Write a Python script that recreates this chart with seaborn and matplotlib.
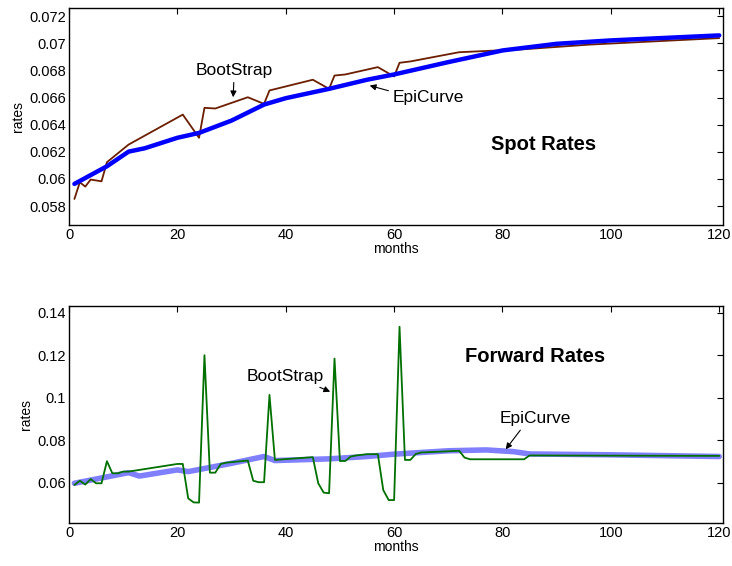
import numpy as np
import pandas as pd
import seaborn as sns
import matplotlib
matplotlib.use("Agg")
import matplotlib.pyplot as plt
from matplotlib.ticker import FuncFormatter

# spot rates (knot months and values)
spot_boot_m = [1, 2, 3, 4, 6, 7, 11, 21, 24, 25, 27, 33, 36, 37, 45, 48, 49, 51,
               57, 60, 61, 63, 72, 84, 96, 120]
spot_boot_v = [0.05852, 0.05975, 0.05943, 0.05995, 0.05982, 0.06123, 0.06253, 0.06474,
               0.06303, 0.06524, 0.06519, 0.06602, 0.06553, 0.06652, 0.06731, 0.06664,
               0.06762, 0.06770, 0.06824, 0.06755, 0.06856, 0.06866, 0.06934, 0.06956,
               0.06990, 0.07038]
spot_epi_m = [1, 7, 11, 14, 20, 24, 30, 36, 40, 48, 55, 60, 70, 80, 90, 100, 120]
spot_epi_v = [0.05963, 0.06093, 0.06201, 0.06226, 0.06303, 0.06339, 0.06430, 0.06548,
              0.06595, 0.06664, 0.06731, 0.06770, 0.06861, 0.06947, 0.06996, 0.07021,
              0.07058]

# forward rates
fwd_boot_m = [1, 2, 3, 4, 5, 6, 7, 8, 9, 10, 11, 20, 21, 22, 23, 24, 25, 26, 27, 28,
              29, 33, 34, 35, 36, 37, 38, 45, 46, 47, 48, 49, 50, 51, 52, 53, 55, 57,
              58, 59, 60, 61, 62, 63, 64, 65, 72, 73, 74, 84, 85, 120]
fwd_boot_v = [0.0589, 0.0609, 0.0591, 0.0617, 0.0597, 0.0597, 0.0701, 0.0644, 0.0644,
              0.0652, 0.0652, 0.0688, 0.0688, 0.0526, 0.0507, 0.0506, 0.1200, 0.0647,
              0.0647, 0.0688, 0.0694, 0.0704, 0.0609, 0.0602, 0.0602, 0.1013, 0.0707,
              0.0720, 0.0597, 0.0553, 0.0550, 0.1184, 0.0702, 0.0702, 0.0723, 0.0728,
              0.0734, 0.0734, 0.0565, 0.0518, 0.0518, 0.1334, 0.0707, 0.0707, 0.0735,
              0.0742, 0.0750, 0.0718, 0.0710, 0.0710, 0.0728, 0.0726]
fwd_epi_m = [1, 11, 13, 20, 22, 30, 36, 38, 48, 55, 60, 70, 77, 82, 85, 100, 120]
fwd_epi_v = [0.0597, 0.0647, 0.0631, 0.0660, 0.0652, 0.0691, 0.0723, 0.0704, 0.0712,
             0.0723, 0.0734, 0.0750, 0.0754, 0.0746, 0.0735, 0.0731, 0.0723]

sns.set_style("white")
plt.rcParams['font.family'] = ['Liberation Sans', 'DejaVu Sans']
plt.rcParams['text.color'] = 'black'
plt.rcParams['axes.labelcolor'] = 'black'

fig = plt.figure(figsize=(7.32, 5.66), dpi=100)
ax1 = fig.add_axes([69/732, 1-225/566, 654/732, 217/566])
ax2 = fig.add_axes([69/732, 1-523/566, 654/732, 217.3/566])

sb = pd.DataFrame({'months': spot_boot_m, 'rates': spot_boot_v})
se = pd.DataFrame({'months': spot_epi_m, 'rates': spot_epi_v})
fb = pd.DataFrame({'months': fwd_boot_m, 'rates': fwd_boot_v})
fe = pd.DataFrame({'months': fwd_epi_m, 'rates': fwd_epi_v})

sns.lineplot(data=sb, x='months', y='rates', ax=ax1, color='#6b1e00', lw=1.3)
sns.lineplot(data=se, x='months', y='rates', ax=ax1, color='#0000ff', lw=3.2)

sns.lineplot(data=fe, x='months', y='rates', ax=ax2, color='#8080ff', lw=4)
sns.lineplot(data=fb, x='months', y='rates', ax=ax2, color='#007000', lw=1.3)

ax1.set_ylim(0.0566, 0.0726)
ax1.set_yticks(np.arange(0.058, 0.0721, 0.002))
ax2.set_ylim(0.041, 0.1433)
ax2.set_yticks([0.06, 0.08, 0.1, 0.12, 0.14])

fmt = FuncFormatter(lambda v, p: '%g' % round(v, 4))
for ax in (ax1, ax2):
    ax.set_xlim(0, 120.7)
    ax.set_xticks(range(0, 121, 20))
    ax.yaxis.set_major_formatter(fmt)
    ax.tick_params(direction='in', top=True, right=True, length=4, width=0.8,
                   labelsize=10.5, pad=2, colors='black')
    for s in ax.spines.values():
        s.set_color('black')
        s.set_linewidth(1.0)
    ax.set_xlabel('months', fontsize=10, labelpad=0)
    ax.set_ylabel('rates', fontsize=10, labelpad=3)

arw = dict(arrowstyle='-|>', color='black', lw=0.8, mutation_scale=9,
           shrinkA=1, shrinkB=0)
ax1.annotate('BootStrap', xy=(30.3, 0.06602), xytext=(30.5, 0.06745),
             ha='center', va='bottom', fontsize=12.5, arrowprops=arw)
ax1.annotate('EpiCurve', xy=(55.5, 0.06688), xytext=(59.8, 0.06602),
             ha='left', va='center', fontsize=12.5,
             arrowprops=dict(arw, relpos=(0.0, 0.85)))
ax1.text(87.5, 0.06251, 'Spot Rates', ha='center', va='center',
         fontsize=14.5, fontweight='bold')

ax2.annotate('BootStrap', xy=(48.2, 0.1028), xytext=(40, 0.1102),
             ha='center', va='center', fontsize=12.5,
             arrowprops=dict(arw, relpos=(0.78, 0.1)))
ax2.annotate('EpiCurve', xy=(80.6, 0.0757), xytext=(86.1, 0.0903),
             ha='center', va='center', fontsize=12.5,
             arrowprops=dict(arw, relpos=(0.35, 0.1)))
ax2.text(86.1, 0.1193, 'Forward Rates', ha='center', va='center',
         fontsize=14.5, fontweight='bold')

plt.savefig('out.png', dpi=100)
